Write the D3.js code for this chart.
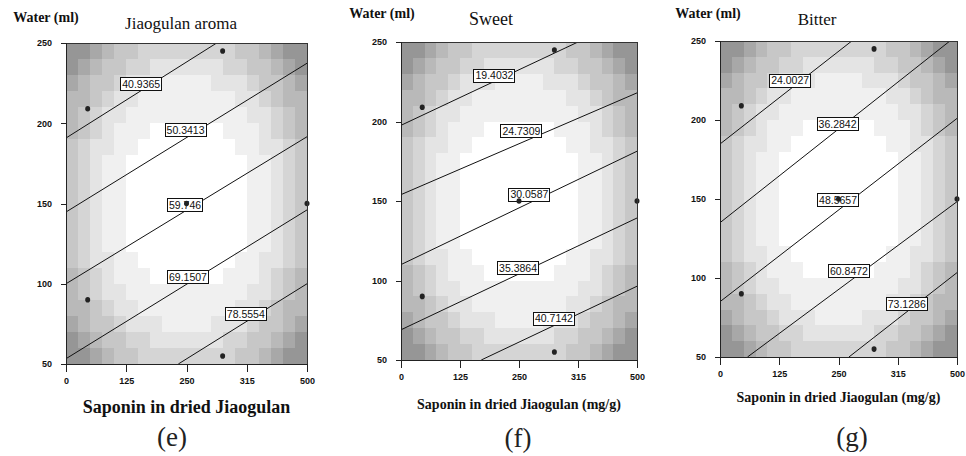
<!DOCTYPE html>
<html>
<head>
<meta charset="utf-8">
<script src="https://cdn.jsdelivr.net/npm/d3@7"></script>
<style>
    body { margin: 0; background: #fff; }
    svg { display: block; }
</style>
</head>
<body>
<svg id="chart" width="966" height="456"></svg>
<script>
// x ticks are evenly spaced; the 4th label in the original figure reads "315"
var xTickValues = [0, 125, 250, 375, 500];
var xTickLabels = ['0', '125', '250', '315', '500'];
var yTickValues = [50, 100, 150, 200, 250];

// design points (saponin, water), same for all three panels
var designX = [45, 325, 45, 325, 500, 250];
var designY = [209, 245, 90, 55, 150, 150];

// stepped grey background, 20 x 20 cells, row 0 = top. 0 = white .. 7 = darkest
var shadeRows = [
    '77654433333333445677',
    '76544332222223344567',
    '65443222111122234456',
    '55432211111111223455',
    '54322111111111122345',
    '54321110000001112345',
    '43221100000000112234',
    '43211000000000011234',
    '43211000000000011234',
    '43211000000000011234',
    '43211000000000011234',
    '43211000000000011234',
    '43211000000000011234',
    '43221100000000112234',
    '54321110000001112345',
    '54322111111111122345',
    '55432211111111223455',
    '65443222111122234456',
    '76544332222223344567',
    '77654433333333445677'
];
var shadeGrays = [255, 240, 228, 213, 199, 185, 168, 150];

// contour lines, [x0, y0, x1, y1] in data units, with label text + label position
var aromaValues = ['40.9365', '50.3413', '59.746', '69.1507', '78.5554'];
var aromaLines = [[0, 190.8, 312.6, 250], [0, 144.7, 500, 237.4], [0, 100, 500, 191.6], [0, 53.3, 500, 146], [233, 50, 500, 100]];
var aromaLabelX = [156, 248, 247, 253, 373];
var aromaLabelY = [224.3, 195.8, 149, 104, 81];

var sweetValues = ['19.4032', '24.7309', '30.0587', '35.3864', '40.7142'];
var sweetLines = [[0, 197.6, 375, 250], [0, 154, 500, 218], [0, 110, 500, 181.3], [0, 69, 500, 139.3], [170, 50, 500, 96.4]];
var sweetLabelX = [198, 255, 272, 248, 324];
var sweetLabelY = [228.8, 194.2, 154, 108, 76];

var bitterValues = ['24.0027', '36.2842', '48.5657', '60.8472', '73.1286'];
var bitterLines = [[0, 184.8, 278, 250], [0, 135, 485, 250], [0, 85, 500, 201], [58, 50, 500, 148.3], [272, 50, 500, 103.4]];
var bitterLabelX = [148, 248, 249, 272, 394];
var bitterLabelY = [224.9, 197.5, 149.4, 104.6, 83.5];

var panels = [
    { left: 66, top: 43, width: 241, height: 321,
      title: 'Jiaogulan aroma', titleSize: 17, titleX: 181, titleY: 29,
      yLabelX: 46, yLabelY: 22,
      xLabel: 'Saponin in dried Jiaogulan', xLabelSize: 18, xLabelY: 413,
      tag: '(e)', tagX: 172, tagY: 446,
      values: aromaValues, lines: aromaLines, lx: aromaLabelX, ly: aromaLabelY },
    { left: 401, top: 42, width: 236, height: 318,
      title: 'Sweet', titleSize: 18, titleX: 491, titleY: 25,
      yLabelX: 382, yLabelY: 18,
      xLabel: 'Saponin in dried Jiaogulan (mg/g)', xLabelSize: 14, xLabelY: 409,
      tag: '(f)', tagX: 518, tagY: 447,
      values: sweetValues, lines: sweetLines, lx: sweetLabelX, ly: sweetLabelY },
    { left: 720, top: 41, width: 237, height: 316,
      title: 'Bitter', titleSize: 17, titleX: 817, titleY: 25,
      yLabelX: 708, yLabelY: 18,
      xLabel: 'Saponin in dried Jiaogulan (mg/g)', xLabelSize: 14, xLabelY: 402,
      tag: '(g)', tagX: 852, tagY: 446,
      values: bitterValues, lines: bitterLines, lx: bitterLabelX, ly: bitterLabelY }
];

var SERIF = '"Liberation Serif", "Times New Roman", serif';
var SANS = '"Liberation Sans", Arial, sans-serif';

var svg = d3.select('#chart');

function drawPanel(p) {
    var x = d3.scaleLinear().domain([0, 500]).range([0, p.width]);
    var y = d3.scaleLinear().domain([50, 250]).range([p.height, 0]);
    var cols = d3.scaleBand().domain(d3.range(20)).range([0, p.width]);
    var rows = d3.scaleBand().domain(d3.range(20)).range([0, p.height]);

    var g = svg.append('g').attr('transform', 'translate(' + p.left + ',' + p.top + ')');

    // grey cells
    var cells = [];
    shadeRows.forEach(function (row, r) {
        row.split('').forEach(function (ch, c) {
            cells.push({ r: r, c: c, v: +ch });
        });
    });
    g.append('g').selectAll('rect').data(cells).join('rect')
        .attr('x', function (d) { return cols(d.c); })
        .attr('y', function (d) { return rows(d.r); })
        .attr('width', cols.bandwidth() + 0.6)
        .attr('height', rows.bandwidth() + 0.6)
        .attr('shape-rendering', 'crispEdges')
        .attr('fill', function (d) { var k = shadeGrays[d.v]; return d3.rgb(k, k, k); });

    // contour lines
    var clipId = 'clip' + p.left;
    g.append('clipPath').attr('id', clipId).append('rect')
        .attr('width', p.width).attr('height', p.height);
    var line = d3.line().x(function (d) { return x(d[0]); }).y(function (d) { return y(d[1]); });
    g.append('g').attr('clip-path', 'url(#' + clipId + ')')
        .selectAll('path').data(p.lines).join('path')
        .attr('d', function (d) { return line([[d[0], d[1]], [d[2], d[3]]]); })
        .attr('fill', 'none')
        .attr('stroke', '#111')
        .attr('stroke-width', 1);

    // contour value boxes
    var lab = g.append('g').selectAll('g').data(p.values).join('g')
        .attr('transform', function (d, i) { return 'translate(' + x(p.lx[i]) + ',' + y(p.ly[i]) + ')'; });
    lab.append('rect');
    lab.append('text')
        .attr('text-anchor', 'middle')
        .attr('dy', '0.36em')
        .attr('font-family', SANS)
        .attr('font-size', 10.5)
        .attr('fill', '#111')
        .text(function (d) { return d; });
    lab.each(function () {
        var t = d3.select(this).select('text');
        var w = t.node().getComputedTextLength() + 3;
        d3.select(this).select('rect')
            .attr('x', -w / 2).attr('y', -6.5)
            .attr('width', w).attr('height', 13)
            .attr('fill', '#fff').attr('stroke', '#111').attr('stroke-width', 1)
            .attr('shape-rendering', 'crispEdges');
    });

    // design points
    g.append('g').selectAll('ellipse').data(designX).join('ellipse')
        .attr('cx', function (d) { return x(d); })
        .attr('cy', function (d, i) { return y(designY[i]); })
        .attr('rx', 2.5).attr('ry', 2.8)
        .attr('fill', '#222');

    // frame
    g.append('rect').attr('width', p.width).attr('height', p.height)
        .attr('fill', 'none').attr('stroke', '#333').attr('stroke-width', 1)
        .attr('shape-rendering', 'crispEdges');

    // axes
    var ax = g.append('g').attr('transform', 'translate(0,' + p.height + ')')
        .call(d3.axisBottom(x).tickValues(xTickValues)
            .tickFormat(function (d, i) { return xTickLabels[i]; })
            .tickSize(8).tickPadding(6));
    var ay = g.append('g')
        .call(d3.axisLeft(y).tickValues(yTickValues).tickSize(5).tickPadding(9));
    [ax, ay].forEach(function (a) {
        a.select('.domain').attr('stroke', '#222').attr('shape-rendering', 'crispEdges');
        a.selectAll('line').attr('stroke', '#222').attr('shape-rendering', 'crispEdges');
        a.selectAll('text').attr('font-family', SANS).attr('font-weight', 'bold')
            .attr('font-size', 9).attr('fill', '#111');
    });

    // texts
    svg.append('text').attr('x', p.titleX).attr('y', p.titleY)
        .attr('text-anchor', 'middle').attr('font-family', SERIF)
        .attr('font-size', p.titleSize).attr('fill', '#111').text(p.title);
    svg.append('text').attr('x', p.yLabelX).attr('y', p.yLabelY)
        .attr('text-anchor', 'middle').attr('font-family', SERIF).attr('font-weight', 'bold')
        .attr('font-size', 14).attr('fill', '#111').text('Water (ml)');
    svg.append('text').attr('x', p.left + p.width / 2).attr('y', p.xLabelY)
        .attr('text-anchor', 'middle').attr('font-family', SERIF).attr('font-weight', 'bold')
        .attr('font-size', p.xLabelSize).attr('fill', '#111').text(p.xLabel);
    svg.append('text').attr('x', p.tagX).attr('y', p.tagY)
        .attr('text-anchor', 'middle').attr('font-family', SERIF)
        .attr('font-size', 27).attr('fill', '#222').text(p.tag);
}

panels.forEach(drawPanel);
</script>
</body>
</html>
